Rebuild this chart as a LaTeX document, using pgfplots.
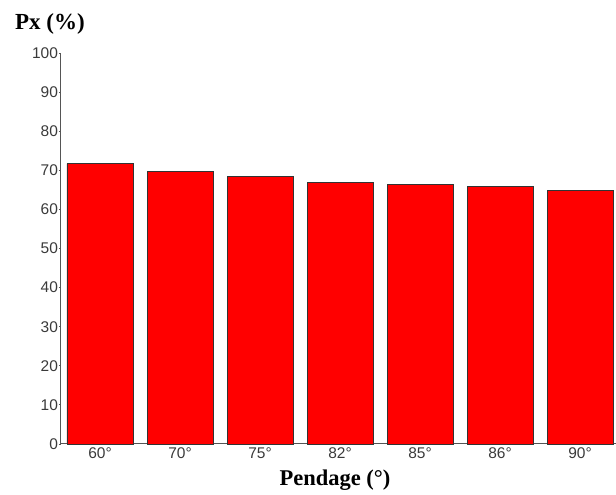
\documentclass[border=0pt]{standalone}
\usepackage{fontspec}
\setmainfont{Liberation Serif}
\newfontfamily\arial{Liberation Sans}
\usepackage{pgfplots}
\pgfplotsset{compat=1.18}
\definecolor{axgray}{HTML}{555555}
\definecolor{tickgray}{HTML}{3A3A3A}
\begin{document}
\begin{tikzpicture}
\useasboundingbox (-61pt,-51pt) rectangle (555pt,444pt);
\begin{axis}[
  at={(0,0)}, anchor=south west,
  scale only axis,
  width=555pt, height=391pt,
  xmin=-0.4875, xmax=6.45,
  ymin=0, ymax=100,
  ytick={0,10,...,100},
  xtick={0,1,2,3,4,5,6},
  xticklabels={60°,70°,75°,82°,85°,86°,90°},
  axis x line*=bottom,
  axis y line*=left,
  axis line style={axgray, line width=1pt, -},
  ytick style={axgray, line width=0.8pt},
  xtick style={draw=none},
  tick align=outside,
  major tick length=2pt,
  /pgf/number format/assume math mode=true,
  tick label style={font=\arial\fontsize{15.5}{17}\selectfont, text=tickgray},
  yticklabel style={xshift=2.5pt},
  xticklabel style={yshift=2pt},
  ybar, bar width=0.825,
  clip=false,
]
\addplot[fill=red, draw=black!80, line width=0.8pt] coordinates {
  (0,71.7) (1,69.6) (2,68.4) (3,66.9) (4,66.3) (5,65.8) (6,64.9)
};
\end{axis}
\node[font=\bfseries\fontsize{23}{26}\selectfont] at (-11pt,420pt) {Px (\%)};
\node[font=\bfseries\fontsize{22.5}{25}\selectfont] at (274pt,-36pt) {Pendage (°)};
\end{tikzpicture}
\end{document}
